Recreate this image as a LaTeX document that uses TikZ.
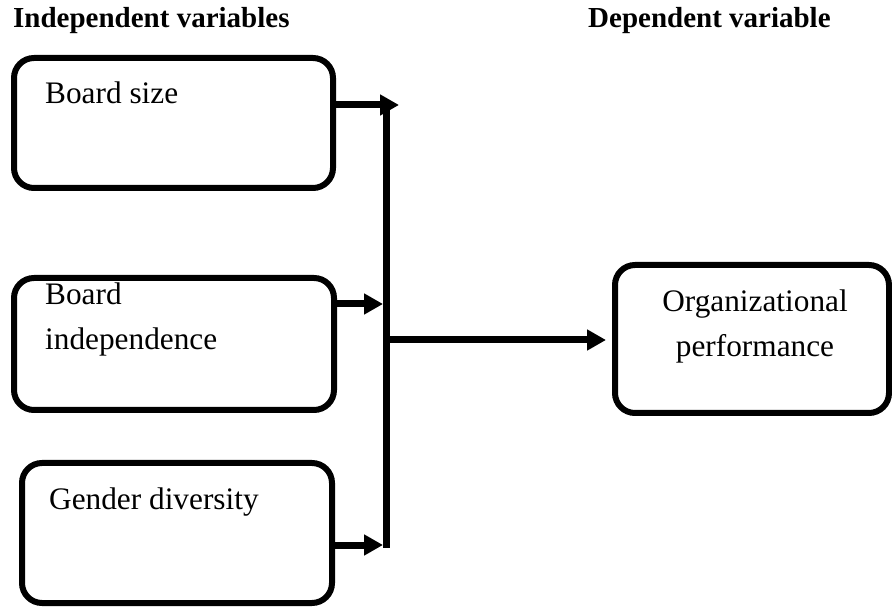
\documentclass[tikz,border=0pt]{standalone}
\usepackage{fontspec}
\setmainfont{Liberation Serif}
\usetikzlibrary{arrows.meta}
\begin{document}
\begin{tikzpicture}[x=1pt,y=-1pt,
  box/.style={draw=black,line width=6pt,rounded corners=20pt,inner sep=0pt,minimum width=#1},
  body/.style={font=\fontsize{31.3}{45}\selectfont,inner sep=0pt},
  ttl/.style={font=\fontsize{29}{35}\selectfont\bfseries,inner sep=0pt,anchor=base west},
  conn/.style={line width=7pt},
  arr/.style={line width=7pt,-{Triangle[length=19pt,width=20pt]}}
]
\useasboundingbox (0,0) rectangle (892,609);
% titles
\node[ttl] (t1) at (13,28) {Independent variables};
\node[ttl] (t2) at (588,28) {Dependent variable};
% boxes
\node[box=319pt,minimum height=130pt] (b1) at (173.5,123) {};
\node[box=320pt,minimum height=132pt] (b2) at (174,344) {};
\node[box=310pt,minimum height=140pt] (b3) at (177,533) {};
\node[box=274pt,minimum height=148pt] (org) at (752,339) {};
% texts
\node[body,anchor=base west] (x1) at (45,104) {Board size};
\node[body,anchor=base west,align=left] (x2) at (45,305) {Board};
\node[body,anchor=base west] (x2b) at (45,350) {independence};
\node[body,anchor=base west] (x3) at (49,510) {Gender diversity};
\node[body,anchor=base] (o1) at (755,312) {Organizational};
\node[body,anchor=base] (o2) at (755,357) {performance};
% connectors
\coordinate (a1) at (399,105);
\coordinate (vtop) at (386,110);
\coordinate (vbot) at (386,548);
\coordinate (a2) at (383,304);
\coordinate (a3) at (383,545);
\coordinate (m0) at (390,340);
\draw[conn] (vtop) -- (vbot);
\draw[arr] (b1.east |- a1) -- (a1);
\draw[arr] (b2.east |- a2) -- (a2);
\draw[arr] (b3.east |- a3) -- (a3);
\draw[arr,shorten >=6pt] (m0) -- (org.west |- m0);
\end{tikzpicture}
\end{document}
